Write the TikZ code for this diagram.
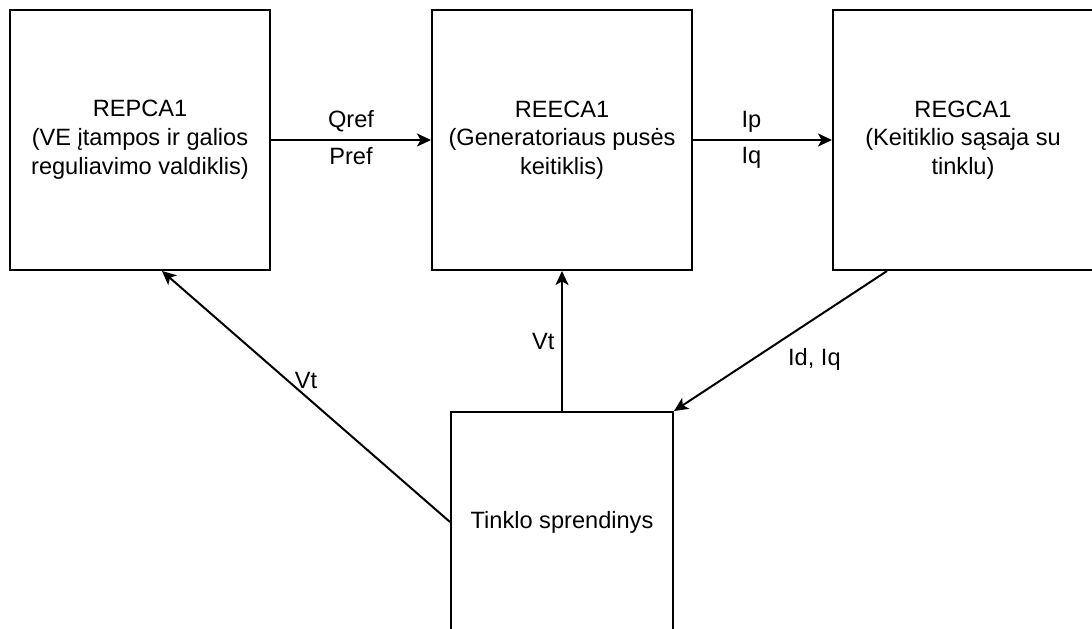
\documentclass[tikz,border=0pt]{standalone}
\usepackage{fontspec}
\setmainfont{Liberation Sans}
\usepackage{tikz}
\usetikzlibrary{arrows.meta,positioning}

\begin{document}
\begin{tikzpicture}[
    x=0.5pt, y=-0.5pt,
    block/.style={rectangle, draw, line width=1pt, minimum width=130pt, minimum height=130pt, align=center, font=\fontsize{11.8}{14.4}\selectfont},
    solver/.style={rectangle, draw, line width=1pt, minimum width=111pt, minimum height=110pt, align=center, font=\fontsize{11.8}{14.4}\selectfont},
    lbl/.style={font=\fontsize{11.8}{14.4}\selectfont},
    arrow/.style={-{Stealth[length=7pt, width=6.5pt, inset=1.8pt]}, line width=1pt}
]
\useasboundingbox (0,0) rectangle (1092,628);
\clip (0,0) rectangle (1092,628);

% Controller blocks
\node[block] (repca) at (140,140) {REPCA1\\(VE įtampos ir galios\\reguliavimo valdiklis)};
\node[block, right=80pt of repca] (reeca) {REECA1\\(Generatoriaus pusės\\keitiklis)};
\node[block, right=69.5pt of reeca] (regca) {REGCA1\\(Keitiklio sąsaja su\\tinklu)};

% Network solution
\node[solver, below=70pt of reeca] (tinklo) {Tinklo sprendinys};

% Signals
\draw[arrow] (repca) -- node[lbl, above] {Qref} node[lbl, below] {Pref} (reeca);
\draw[arrow] (reeca) -- node[lbl, above, pos=0.42] {Ip} node[lbl, below, pos=0.42] {Iq} (regca);
\draw[arrow] (tinklo) -- node[lbl, left] {Vt} (reeca);
\draw[arrow] (tinklo.west) -- node[lbl, above] {Vt} ([xshift=11pt]repca.south);
\draw[arrow] ([xshift=-38pt]regca.south) -- node[lbl, below right] {Id, Iq} (tinklo.north east);

\end{tikzpicture}
\end{document}
